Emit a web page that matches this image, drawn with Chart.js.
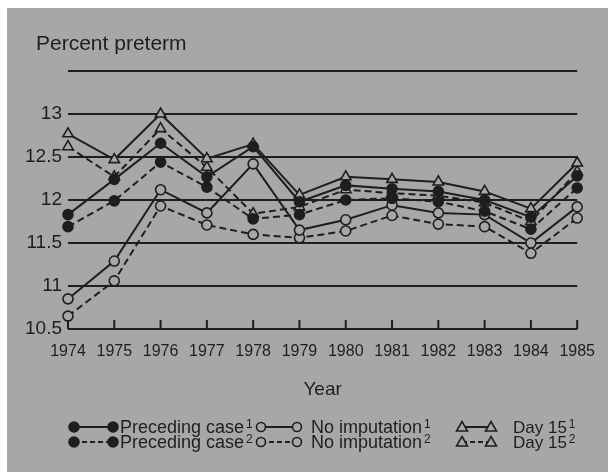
<!DOCTYPE html>
<html>
<head>
<meta charset="utf-8">
<script src="https://cdn.jsdelivr.net/npm/chart.js@4.4.1/dist/chart.umd.min.js"></script>
<style>
  html, body { margin: 0; padding: 0; background: #ffffff; }
  #panel { position: absolute; left: 7px; top: 8px; width: 601px; height: 464px; background: #a7a7a7; }
  #panel canvas { display: block; }
</style>
</head>
<body>
<div id="panel"><canvas id="pretermChart" width="601" height="464"></canvas></div>
<script>
// DATA (percent preterm by year)
const years = ['1974', '1975', '1976', '1977', '1978', '1979', '1980', '1981', '1982', '1983', '1984', '1985'];
const precedingCase1 = [11.83, 12.24, 12.66, 12.27, 12.62, 11.98, 12.17, 12.13, 12.10, 12.00, 11.80, 12.28];
const precedingCase2 = [11.69, 11.99, 12.44, 12.15, 11.78, 11.83, 12.00, 12.02, 11.98, 11.87, 11.66, 12.14];
const noImputation1 = [10.85, 11.29, 12.12, 11.85, 12.42, 11.65, 11.77, 11.94, 11.85, 11.83, 11.50, 11.92];
const noImputation2 = [10.65, 11.06, 11.93, 11.71, 11.60, 11.56, 11.64, 11.82, 11.72, 11.69, 11.38, 11.79];
const day15First = [12.77, 12.47, 13.00, 12.48, 12.65, 12.06, 12.27, 12.24, 12.21, 12.10, 11.90, 12.43];
const day15Second = [12.62, 12.27, 12.83, 12.38, 11.84, 11.92, 12.12, 12.08, 12.05, 11.97, 11.75, 12.33];
const yMin = 10.5, yMax = 13.5, yStep = 0.5;

const INK = '#1e1e1e';
const PAPER = '#a7a7a7';
const FONT = '"Liberation Sans", Arial, Helvetica, sans-serif';
const DASH = [7, 4];

const makeSet = (label, data, dashed, style, filled) => ({
    label: label,
    data: data,
    borderColor: INK,
    borderWidth: 2,
    borderDash: dashed ? DASH : [],
    pointStyle: style,
    pointRadius: style === 'triangle' ? 6 : 5,
    pointBorderWidth: 1.6,
    pointBorderColor: INK,
    pointBackgroundColor: filled ? INK : PAPER,
    tension: 0,
    fill: false
});

// LEGEND + TITLES + INWARD TICKS
const decorations = {
    id: 'decorations',
    afterDraw(chart) {
        const ctx = chart.ctx;
        const area = chart.chartArea;
        const x = chart.scales.x;
        ctx.save();

        // inward tick marks on the year axis
        ctx.strokeStyle = INK;
        ctx.lineWidth = 2;
        x.ticks.forEach((t, i) => {
            const px = x.getPixelForTick(i);
            ctx.beginPath();
            ctx.moveTo(px, area.bottom);
            ctx.lineTo(px, area.bottom - 9);
            ctx.stroke();
        });

        ctx.fillStyle = INK;
        ctx.textBaseline = 'alphabetic';
        ctx.textAlign = 'left';
        ctx.font = '21px ' + FONT;
        ctx.fillText('Percent preterm', 29, 42);

        ctx.textAlign = 'center';
        ctx.font = '19px ' + FONT;
        ctx.fillText('Year', (area.left + area.right) / 2, 387);

        const marker = (style, cx, cy) => {
            ctx.setLineDash([]);
            ctx.lineWidth = 1.6;
            ctx.beginPath();
            if (style === 'triangle') {
                ctx.moveTo(cx, cy - 5.5);
                ctx.lineTo(cx + 5.5, cy + 4);
                ctx.lineTo(cx - 5.5, cy + 4);
                ctx.closePath();
                ctx.fillStyle = PAPER;
            } else {
                ctx.arc(cx, cy, style === 'filled' ? 5 : 4.5, 0, Math.PI * 2);
                ctx.fillStyle = style === 'filled' ? INK : PAPER;
            }
            ctx.fill();
            ctx.stroke();
        };

        const items = [
            { style: 'filled', x1: 67, x2: 106, text: 'Preceding case', tx: 113, size: 18 },
            { style: 'open', x1: 254, x2: 290, text: 'No imputation', tx: 304, size: 18 },
            { style: 'triangle', x1: 455, x2: 484, text: 'Day 15', tx: 506, size: 17 }
        ];
        [[419, false, '1'], [434, true, '2']].forEach(([cy, dashed, sup]) => {
            items.forEach(it => {
                ctx.strokeStyle = INK;
                ctx.lineWidth = 2;
                ctx.setLineDash(dashed ? [5, 3] : []);
                ctx.beginPath();
                ctx.moveTo(it.x1, cy);
                ctx.lineTo(it.x2, cy);
                ctx.stroke();
                marker(it.style, it.x1, cy);
                marker(it.style, it.x2, cy);
                ctx.fillStyle = INK;
                ctx.textAlign = 'left';
                ctx.font = it.size + 'px ' + FONT;
                ctx.fillText(it.text, it.tx, cy + 6);
                const w = ctx.measureText(it.text).width;
                ctx.font = '12px ' + FONT;
                ctx.fillText(sup, it.tx + w + 2, cy + 1);
            });
        });
        ctx.restore();
    }
};

document.addEventListener('DOMContentLoaded', function () {
    const ctx = document.getElementById('pretermChart');
    new Chart(ctx, {
        type: 'line',
        data: {
            labels: years,
            datasets: [
                makeSet('Preceding case 1', precedingCase1, false, 'circle', true),
                makeSet('Preceding case 2', precedingCase2, true, 'circle', true),
                makeSet('No imputation 1', noImputation1, false, 'circle', false),
                makeSet('No imputation 2', noImputation2, true, 'circle', false),
                makeSet('Day 15 1', day15First, false, 'triangle', false),
                makeSet('Day 15 2', day15Second, true, 'triangle', false)
            ]
        },
        options: {
            responsive: false,
            animation: false,
            layout: { padding: { left: 0, top: 63, right: 26, bottom: 103 } },
            plugins: { legend: { display: false }, tooltip: { enabled: false } },
            scales: {
                x: {
                    offset: false,
                    grid: { display: false, drawTicks: false },
                    border: { display: false },
                    ticks: { color: INK, font: { family: FONT, size: 16 }, padding: 13, maxRotation: 0, autoSkip: false },
                    afterFit: (scale) => { scale.height = 40; }
                },
                y: {
                    min: yMin,
                    max: yMax,
                    grid: { color: INK, lineWidth: 2, drawTicks: false },
                    border: { display: false },
                    ticks: {
                        stepSize: yStep,
                        color: INK,
                        padding: 6,
                        font: { family: FONT, size: 19 },
                        callback: (v) => (v === yMax ? '' : v)
                    },
                    afterFit: (scale) => { scale.width = 61; }
                }
            }
        },
        plugins: [decorations]
    });
});
</script>
</body>
</html>
